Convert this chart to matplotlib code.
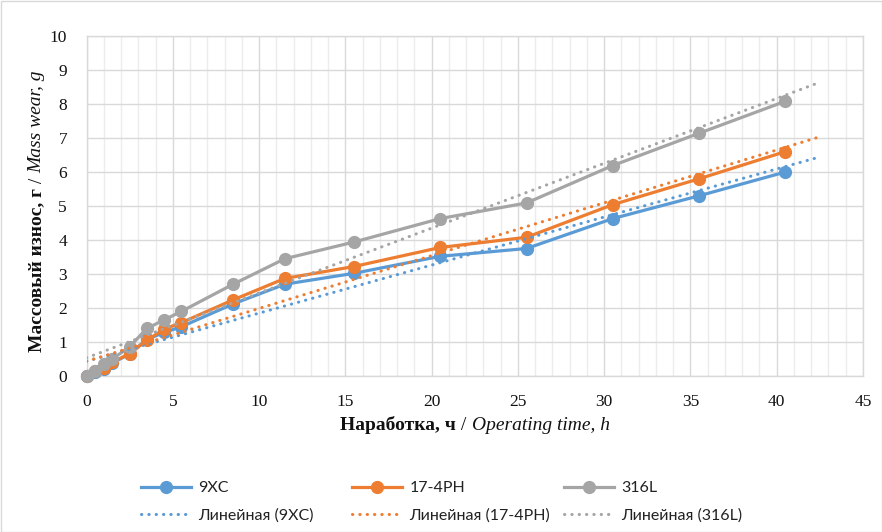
import numpy as np
import matplotlib
matplotlib.use("Agg")
import matplotlib.pyplot as plt
from matplotlib.ticker import MultipleLocator
from matplotlib.patches import Rectangle

# Data
hours = [0, 0.5, 1, 1.5, 2.5, 3.5, 4.5, 5.5, 8.5, 11.5, 15.5, 20.5, 25.5, 30.5, 35.5, 40.5]
wear_9xc = [0, 0.12, 0.22, 0.38, 0.65, 1.08, 1.28, 1.45, 2.12, 2.70, 3.02, 3.52, 3.75, 4.63, 5.30, 6.00]
wear_174ph = [0, 0.15, 0.25, 0.40, 0.66, 1.05, 1.38, 1.57, 2.24, 2.87, 3.22, 3.78, 4.08, 5.04, 5.80, 6.60]
wear_316l = [0, 0.15, 0.35, 0.50, 0.86, 1.40, 1.65, 1.90, 2.70, 3.45, 3.94, 4.63, 5.09, 6.19, 7.14, 8.08]
names = ["9XC", "17-4PH", "316L"]
colors = ["#5B9BD5", "#ED7D31", "#A5A5A5"]
trend_end = 42.5  # forecast forward 2 units

plt.rcParams["font.family"] = ["Liberation Serif", "DejaVu Serif"]

W, H = 882, 532
fig = plt.figure(figsize=(W / 100, H / 100), dpi=100)
ax = fig.add_axes([86.5 / W, 1 - 376 / H, (863 - 86.5) / W, (376 - 36) / H])

x = np.array(hours)
series = [wear_9xc, wear_174ph, wear_316l]
handles = []
for name, ys, c in zip(names, series, colors):
    h, = ax.plot(x, ys, color=c, lw=2.3, marker="o", ms=8.5, label=name,
                 clip_on=False, zorder=3)
    handles.append(h)

trend_handles = []
for name, ys, c in zip(names, series, colors):
    k, b = np.polyfit(x, ys, 1)
    xt = np.array([0, trend_end])
    t, = ax.plot(xt, k * xt + b, color=c, lw=2.2, linestyle=(0, (0.1, 2.3)),
                 dash_capstyle="round", label=f"Линейная ({name})", zorder=4)
    trend_handles.append(t)

ax.set_xlim(0, 45)
ax.set_ylim(0, 10)
ax.xaxis.set_major_locator(MultipleLocator(5))
ax.xaxis.set_minor_locator(MultipleLocator(1))
ax.yaxis.set_major_locator(MultipleLocator(1))
ax.grid(True, which="major", axis="both", color="#d9d9d9", lw=1.0, zorder=0)
ax.grid(True, which="minor", axis="x", color="#ececec", lw=1.0, zorder=0)
ax.set_axisbelow(True)
for s in ax.spines.values():
    s.set_color("#d9d9d9")
    s.set_linewidth(1.0)
ax.tick_params(which="both", length=0, labelsize=12.5, labelcolor="#111111",
               labelfontfamily="Liberation Serif")
ax.tick_params(axis="x", pad=13)
ax.tick_params(axis="y", pad=14)

# Legends: three columns, two rows each
col_x = [141, 352, 564]
for i in range(3):
    lg = fig.legend([handles[i], trend_handles[i]],
                    [names[i], f"Линейная ({names[i]})"],
                    loc="upper left", bbox_to_anchor=(col_x[i] / W, 1 - 481 / H),
                    frameon=False, handlelength=3.15, handletextpad=0.45,
                    labelspacing=0.8, borderpad=0, borderaxespad=0,
                    prop={"family": ["Lato", "DejaVu Sans"], "size": 11.5})
    for t in lg.get_texts():
        t.set_color("#222222")

# Rich axis labels
fig.canvas.draw()
r = fig.canvas.get_renderer()


def rich_label(cx, cy, parts, rotation=0, size=14):
    texts = []
    for s, kw in parts:
        t = fig.text(0, 0, s, fontsize=size, fontfamily="Liberation Serif",
                     rotation=rotation, rotation_mode="anchor",
                     ha="left", va="center", color="#111111", **kw)
        texts.append(t)
    lengths = []
    for t in texts:
        e = t.get_window_extent(r)
        lengths.append(e.width if rotation == 0 else e.height)
    total = sum(lengths)
    pos = -total / 2
    for t, L in zip(texts, lengths):
        if rotation == 0:
            t.set_position(((cx + pos) / W, 1 - cy / H))
        else:
            t.set_position((cx / W, 1 - (cy - pos) / H))
        pos += L


rich_label(475, 425, [("Наработка, ч", {"fontweight": "bold"}),
                      (" / ", {}),
                      ("Operating time, h", {"fontstyle": "italic"})])
rich_label(37, 211, [("Массовый износ, г", {"fontweight": "bold"}),
                     (" / ", {}),
                     ("Mass wear, g", {"fontstyle": "italic"})], rotation=90)

fig.patches.append(Rectangle((0.5 / W, 0.5 / H), 1 - 1 / W, 1 - 1 / H,
                             transform=fig.transFigure, fill=False,
                             edgecolor="#d9d9d9", lw=1.0))

fig.savefig("out.png", dpi=100)
